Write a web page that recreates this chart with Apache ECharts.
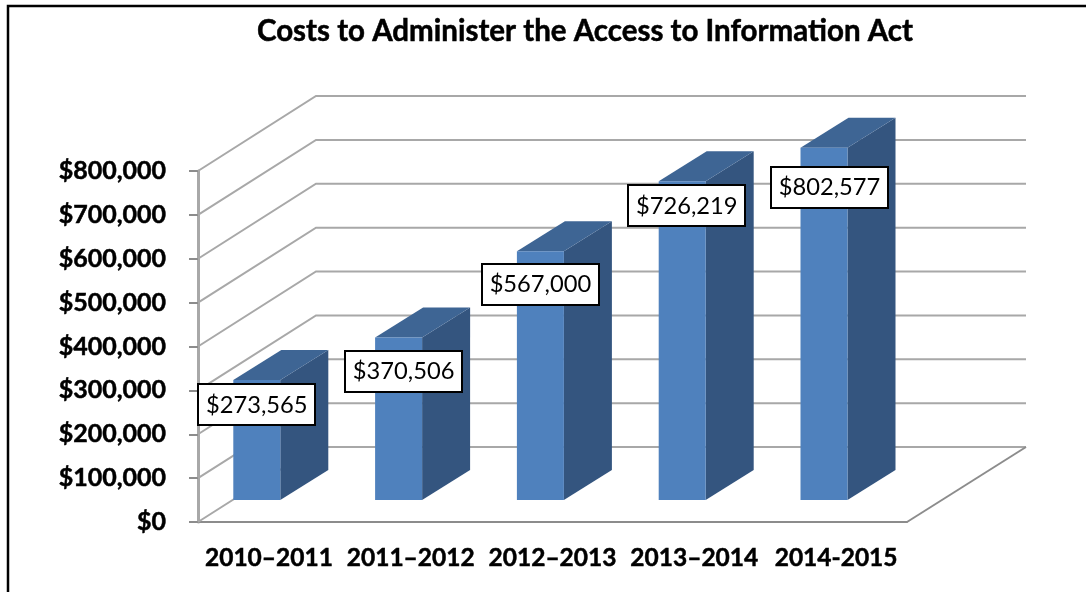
<!DOCTYPE html>
<html>
<head>
<meta charset="utf-8">
<style>html,body{margin:0;padding:0;background:#fff}#chart{width:1086px;height:592px}</style>
<script src="https://cdn.jsdelivr.net/npm/echarts@6/dist/echarts.min.js"></script>
</head>
<body>
<div id="chart"></div>
<script>
// Annual cost figures, one per fiscal year
const fiscalYears = ['2010–2011', '2011–2012', '2012–2013', '2013–2014', '2014-2015'];
const costs = [273565, 370506, 567000, 726219, 802577];
const valueTicks = [0, 100000, 200000, 300000, 400000, 500000, 600000, 700000, 800000];

// Pseudo-3D projection: how far the back wall and the bars recede, in pixels
const WALL_DX = 119, WALL_DY = -75;
const BAR_INSET_X = 35.3, BAR_INSET_Y = -22;
const BAR_W = 47, BAR_DX = 48, BAR_DY = -30;

// Callout box offsets from the top-centre of each bar's front face
const CALLOUT_W = 117, CALLOUT_H = 41;
const calloutDx = [0, 5, 0, 4.5, 5.5];
const calloutDy = [25, 34, 33.5, 24.5, 39.5];

const money = v => '$' + Number(v).toLocaleString('en-US');
const LATO = 'Lato, sans-serif';

function renderWall(params, api) {
  const rect = params.coordSys;
  const y = api.coord([0, api.value(1)])[1];
  const x0 = rect.x, x1 = rect.x + rect.width;
  const line = { stroke: '#a8a8a8', lineWidth: 2, fill: null };
  const children = [
    { type: 'polyline', shape: { points: [[x0, y], [x0 + WALL_DX - 1, y + WALL_DY], [x1 + WALL_DX, y + WALL_DY]] }, style: line }
  ];
  if (api.value(1) === 0) {
    children.push({
      type: 'line',
      shape: { x1: x1, y1: y, x2: x1 + WALL_DX, y2: y + WALL_DY },
      style: { stroke: '#8c8c8c', lineWidth: 2 }
    });
  }
  return { type: 'group', children };
}

function barFaces(params, api) {
  const rect = params.coordSys;
  const band = api.size([1, 0])[0];
  const idx = api.value(0);
  const left = rect.x + band * idx + BAR_INSET_X;
  const top = api.coord([idx, api.value(1)])[1] + BAR_INSET_Y;
  const base = api.coord([idx, 0])[1] + BAR_INSET_Y;
  return { left, top, base };
}

function renderBar(params, api) {
  const { left, top, base } = barFaces(params, api);
  const right = left + BAR_W;
  return {
    type: 'group',
    children: [
      { type: 'polygon', shape: { points: [[right, top], [right + BAR_DX, top + BAR_DY], [right + BAR_DX, base + BAR_DY], [right, base]] }, style: { fill: '#34557f' } },
      { type: 'polygon', shape: { points: [[left, top], [left + BAR_DX, top + BAR_DY], [right + BAR_DX, top + BAR_DY], [right, top]] }, style: { fill: '#3e6594' } },
      { type: 'rect', shape: { x: left, y: top, width: BAR_W, height: base - top }, style: { fill: '#4f81bd' } }
    ]
  };
}

function renderCallout(params, api) {
  const { left, top } = barFaces(params, api);
  const cx = left + BAR_W / 2 + calloutDx[params.dataIndex];
  const cy = top + calloutDy[params.dataIndex];
  return {
    type: 'group',
    children: [
      { type: 'rect', shape: { x: Math.round(cx - CALLOUT_W / 2), y: Math.round(cy - CALLOUT_H / 2), width: CALLOUT_W, height: CALLOUT_H }, style: { fill: '#fff', stroke: '#000', lineWidth: 2 } },
      { type: 'text', style: { x: cx, y: cy, text: money(api.value(1)), fill: '#000', font: '23.7px ' + LATO, align: 'center', verticalAlign: 'middle' } }
    ]
  };
}

const chart = echarts.init(document.getElementById('chart'), null, { renderer: 'canvas' });
chart.setOption({
  animation: false,
  backgroundColor: '#fff',
  title: {
    text: 'Costs to Administer the Access to Information Act',
    left: 580, top: 26, textAlign: 'center', textVerticalAlign: 'middle',
    textStyle: { fontFamily: LATO, fontWeight: 'bold', fontSize: 29.5, color: '#000', textBorderColor: '#000', textBorderWidth: 0.5 }
  },
  graphic: [
    { type: 'polyline', silent: true, shape: { points: [[8, 592], [8, 6], [1086, 6]] }, style: { stroke: '#000', lineWidth: 2.5, fill: null } }
  ],
  grid: { left: 198, right: 179, top: 171, bottom: 70 },
  xAxis: {
    type: 'category', data: fiscalYears, boundaryGap: true,
    axisLine: { lineStyle: { color: '#8c8c8c', width: 2 } },
    axisTick: { length: 8, lineStyle: { color: '#8c8c8c', width: 2 } },
    axisLabel: { interval: 0, margin: 24, fontFamily: LATO, fontWeight: 'bold', fontSize: 24.5, color: '#000', textBorderColor: '#000', textBorderWidth: 0.5 }
  },
  yAxis: {
    type: 'value', min: 0, max: 800000, interval: 100000,
    splitLine: { show: false },
    axisLine: { show: true, lineStyle: { color: '#a8a8a8', width: 3 } },
    axisTick: { show: true, length: 9, lineStyle: { color: '#8c8c8c', width: 2 } },
    axisLabel: { margin: 32, padding: [5, 0, 0, 0], fontFamily: LATO, fontWeight: 'bold', fontSize: 25, color: '#000', textBorderColor: '#000', textBorderWidth: 0.5, formatter: money }
  },
  series: [
    { type: 'custom', silent: true, z: 1, renderItem: renderWall, data: valueTicks.map(v => [0, v]), encode: { x: 0, y: 1 } },
    { type: 'custom', silent: true, z: 3, renderItem: renderBar, data: costs.map((v, i) => [i, v]), encode: { x: 0, y: 1 } },
    { type: 'custom', silent: true, z: 4, renderItem: renderCallout, data: costs.map((v, i) => [i, v]), encode: { x: 0, y: 1 } }
  ]
});
</script>
</body>
</html>
